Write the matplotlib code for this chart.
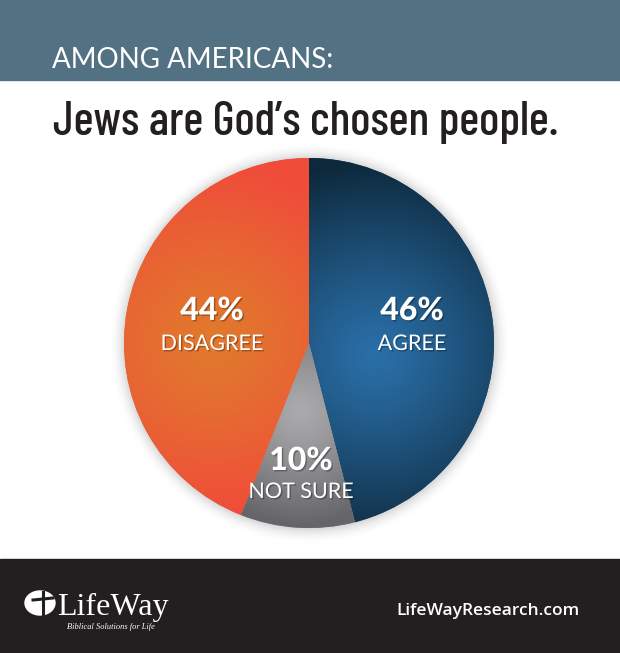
import numpy as np
import matplotlib
matplotlib.use("Agg")
import matplotlib.pyplot as plt
from matplotlib.patches import Rectangle, Ellipse
from matplotlib import font_manager as fm
import matplotlib.patheffects as pe

# ---- data ----
labels = ["AGREE", "NOT SURE", "DISAGREE"]
values = [46, 10, 44]
pct_labels = ["46%", "10%", "44%"]
header = "AMONG AMERICANS:"
title = "Jews are God\u2019s chosen people."
site = "LifeWayResearch.com"

W, H = 620, 653
fig = plt.figure(figsize=(W / 100, H / 100), dpi=100)
ax = fig.add_axes([0, 0, 1, 1])
ax.set_xlim(0, W)
ax.set_ylim(0, H)
ax.axis("off")
renderer = fig.canvas.get_renderer()

def Y(y):
    return H - y

def wnum(w):
    if isinstance(w, int):
        return w
    return {"ultralight": 200, "light": 300, "normal": 400, "regular": 400,
            "book": 400, "medium": 500, "roman": 400, "semibold": 600,
            "demibold": 600, "demi": 600, "bold": 700, "heavy": 800,
            "extra bold": 800, "black": 900}.get(str(w).lower(), 400)

def text_w(s, fp):
    t = ax.text(0, 0, s, fontproperties=fp)
    w = t.get_window_extent(renderer).width
    t.remove()
    return w

# choose a narrow, proportional sans font for the title
allowed = ("DejaVu Sans", "Liberation Sans", "Noto Sans", "Roboto",
           "Open Sans", "Lato", "Inter")
target_ratio = 505 / 50.0
best = None
seen = set()
for f in fm.fontManager.ttflist:
    if f.fname in seen:
        continue
    seen.add(f.fname)
    if f.style != "normal":
        continue
    if not (450 <= wnum(f.weight) <= 750):
        continue
    if any(k in f.name for k in ("CJK", "Mono", "Serif", "Math", "Display")):
        continue
    if not (f.name.startswith(allowed) or "Condensed" in f.name
            or "Narrow" in f.name):
        continue
    try:
        fp = fm.FontProperties(fname=f.fname, size=36)
        wi = text_w("iiiiii", fp)
        wm = text_w("MMMMMM", fp)
        if wm <= 0 or wi / wm > 0.7:
            continue
        wpx = text_w(title, fp)
    except Exception:
        continue
    ratio = wpx / 50.0
    score = abs(ratio - target_ratio)
    if best is None or score < best[0]:
        best = (score, f.fname, wpx)

if best is not None:
    title_fp = fm.FontProperties(fname=best[1])
    title_size = min(36 * 505.0 / best[2], 40)
else:
    title_fp = fm.FontProperties(family="DejaVu Sans", weight="bold",
                                 stretch="condensed")
    title_size = 26

# bands
ax.add_patch(Rectangle((0, Y(80)), W, 80, color="#527183", zorder=0))
ax.add_patch(Rectangle((0, 0), W, H - 559, color="#231f20", zorder=0))

# header texts
ax.text(52, Y(68), header, color="white", fontsize=20, family="Lato",
        fontweight="normal", ha="left", va="baseline")
ax.text(53, Y(135), title, color="#231f20", fontproperties=title_fp,
        fontsize=title_size, ha="left", va="baseline")

# pie
cx, cy, R = 309, 343, 185
yy, xx = np.mgrid[0:H, 0:W]
dist = np.hypot(xx - cx, yy - cy)
sh = np.clip(1 - (dist - R) / 16, 0, 1) * (dist > R - 2)
shadow = np.zeros((H, W, 4))
shadow[..., :3] = 0.3
shadow[..., 3] = 0.22 * sh ** 2
ax.imshow(shadow, extent=(0, W, 0, H), origin="upper", zorder=1,
          interpolation="bilinear")

base_cols = ["#1d4f74", "#8a8a8c", "#e8673a"]
wedges, _ = ax.pie(values, center=(cx, Y(cy)), radius=R, startangle=90,
                   counterclock=False, colors=base_cols, frame=True,
                   wedgeprops=dict(linewidth=0))
ax.set_xlim(0, W)
ax.set_ylim(0, H)
ax.set_aspect("equal")
ax.axis("off")

def hex2rgb(h):
    h = h.lstrip("#")
    return np.array([int(h[i:i + 2], 16) for i in (0, 2, 4)]) / 255.0

grads = [
    ((375, 355), "#2a6fa8", "#0d283a", 195),
    ((300, 410), "#ababad", "#646469", 115),
    ((212, 340), "#e17a2d", "#f04c3a", 175),
]
for w, (gc, cin, cout, sc) in zip(wedges, grads):
    d = np.hypot(xx - gc[0], yy - gc[1]) / sc
    t = np.clip(d, 0, 1) ** 1.2
    img = np.ones((H, W, 4))
    ci, co = hex2rgb(cin), hex2rgb(cout)
    img[..., :3] = ci[None, None, :] * (1 - t[..., None]) + co[None, None, :] * t[..., None]
    im = ax.imshow(img, extent=(0, W, 0, H), origin="upper", zorder=2,
                   interpolation="bilinear")
    im.set_clip_path(w)
ax.set_xlim(0, W)
ax.set_ylim(0, H)

fx = [pe.withSimplePatchShadow(offset=(1, -1), shadow_rgbFace="black", alpha=0.3)]
label_pos = [(412, 320, 350), (301, 470, 498), (212, 320, 350)]
for (x, yb1, yb2), p, lab in zip(label_pos, pct_labels, labels):
    ax.text(x, Y(yb1), p, color="white", fontsize=23, family="Lato",
            fontweight="black", ha="center", va="baseline", zorder=5,
            path_effects=fx)
    ax.text(x, Y(yb2), lab, color="white", fontsize=15.5, family="Lato",
            fontweight="normal", ha="center", va="baseline", zorder=5,
            path_effects=fx)

# logo
ax.add_patch(Ellipse((40, Y(603)), 30, 24, color="white", zorder=3))
ax.plot([43, 43], [Y(592), Y(614)], color="#231f20", lw=2.2, zorder=4)
ax.plot([33, 53], [Y(600), Y(598)], color="#231f20", lw=2.2, zorder=4)
ax.text(57, Y(615), "LifeWay", color="white", fontsize=23,
        family="Liberation Serif", ha="left", va="baseline", zorder=4)
ax.text(67, Y(629), "Biblical Solutions for Life", color="white", fontsize=6,
        family="Liberation Serif", style="italic", ha="left", va="baseline",
        zorder=4)

ax.text(580, Y(615), site, color="white", fontsize=12.5, family="Open Sans",
        fontweight="semibold", ha="right", va="baseline")

fig.savefig("out.png", dpi=100)
